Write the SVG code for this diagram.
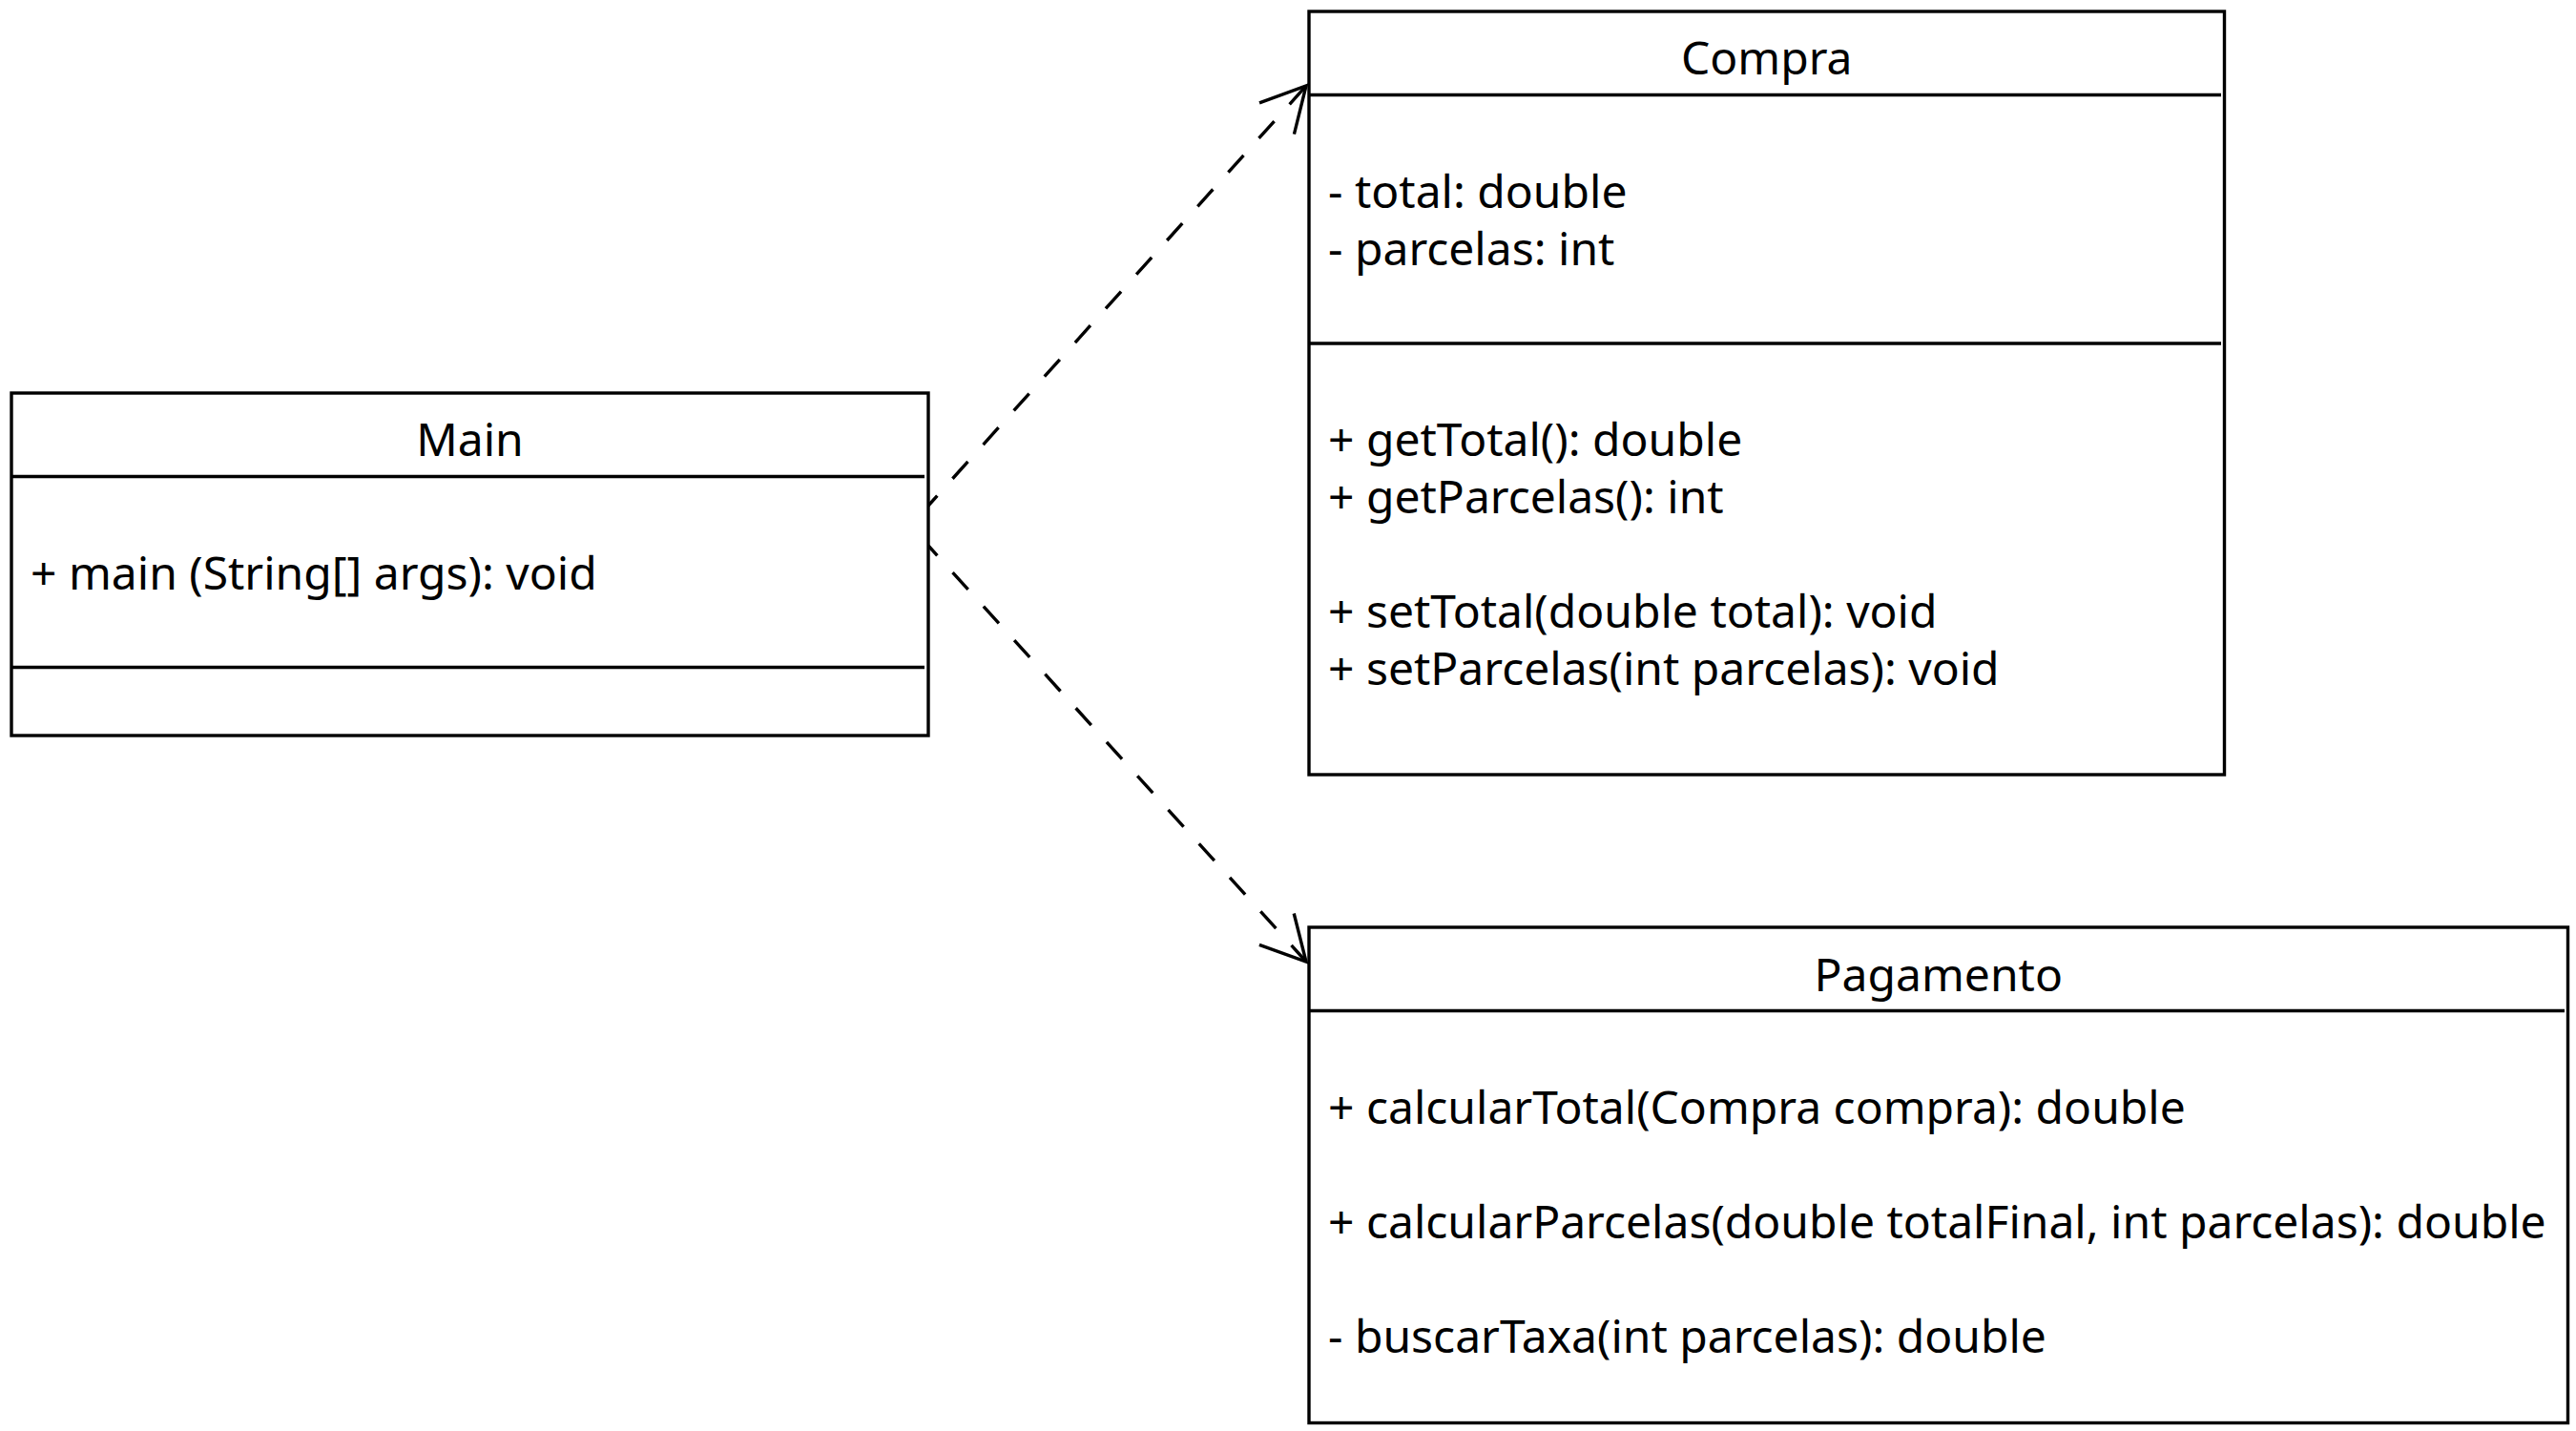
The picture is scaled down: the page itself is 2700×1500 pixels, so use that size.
<svg xmlns="http://www.w3.org/2000/svg" width="2700" height="1500" viewBox="0 0 2700 1500">
  <style>
    .box { fill: #ffffff; stroke: #000000; stroke-width: 3.4; }
    .sep { stroke: #000000; stroke-width: 3.4; fill: none; }
    .title { font-family: "Noto Sans", "Open Sans", sans-serif; font-size: 48px; fill: #000000; text-anchor: middle; }
    .item { font-family: "Noto Sans", "Open Sans", sans-serif; font-size: 48px; fill: #000000; }
    .dep { fill: none; stroke: #000000; stroke-width: 3.4; stroke-dasharray: 24 24; stroke-dashoffset: 10; }
  </style>
  <defs>
    <marker id="open" markerUnits="userSpaceOnUse" orient="auto" markerWidth="70" markerHeight="70" viewBox="-60 -35 70 70" refX="0" refY="0" overflow="visible">
      <path d="M-46,-24.5 L0,0 L-46,24.5" fill="none" stroke="#000000" stroke-width="3.4" stroke-dasharray="none" stroke-linejoin="miter"/>
    </marker>
  </defs>
  <rect x="0" y="0" width="2700" height="1500" fill="#ffffff"/>

  <g id="connectors">
    <path class="dep" d="M973,530 L1369,90" marker-end="url(#open)"/>
    <path class="dep" d="M973,572 L1369,1008" marker-end="url(#open)"/>
  </g>

  <g id="node-main">
    <rect class="box" x="12" y="412" width="961" height="359"/>
    <line class="sep" x1="12" y1="499.5" x2="969" y2="499.5"/>
    <line class="sep" x1="12" y1="699.5" x2="969" y2="699.5"/>
    <text class="title" x="492.5" y="478">Main</text>
    <text class="item" x="32" y="618">+ main (String[] args): void</text>
  </g>

  <g id="node-compra">
    <rect class="box" x="1372" y="12" width="959.5" height="800"/>
    <line class="sep" x1="1372" y1="99.5" x2="2328" y2="99.5"/>
    <line class="sep" x1="1372" y1="360" x2="2328" y2="360"/>
    <text class="title" x="1851.75" y="78">Compra</text>
    <text class="item" x="1392" y="218">- total: double</text>
    <text class="item" x="1392" y="278">- parcelas: int</text>
    <text class="item" x="1392" y="478">+ getTotal(): double</text>
    <text class="item" x="1392" y="538">+ getParcelas(): int</text>
    <text class="item" x="1392" y="658">+ setTotal(double total): void</text>
    <text class="item" x="1392" y="718">+ setParcelas(int parcelas): void</text>
  </g>

  <g id="node-pagamento">
    <rect class="box" x="1372" y="972" width="1319.5" height="519.5"/>
    <line class="sep" x1="1372" y1="1059.5" x2="2688" y2="1059.5"/>
    <text class="title" x="2031.75" y="1039">Pagamento</text>
    <text class="item" x="1392" y="1178">+ calcularTotal(Compra compra): double</text>
    <text class="item" x="1392" y="1298">+ calcularParcelas(double totalFinal, int parcelas): double</text>
    <text class="item" x="1392" y="1418">- buscarTaxa(int parcelas): double</text>
  </g>
</svg>
